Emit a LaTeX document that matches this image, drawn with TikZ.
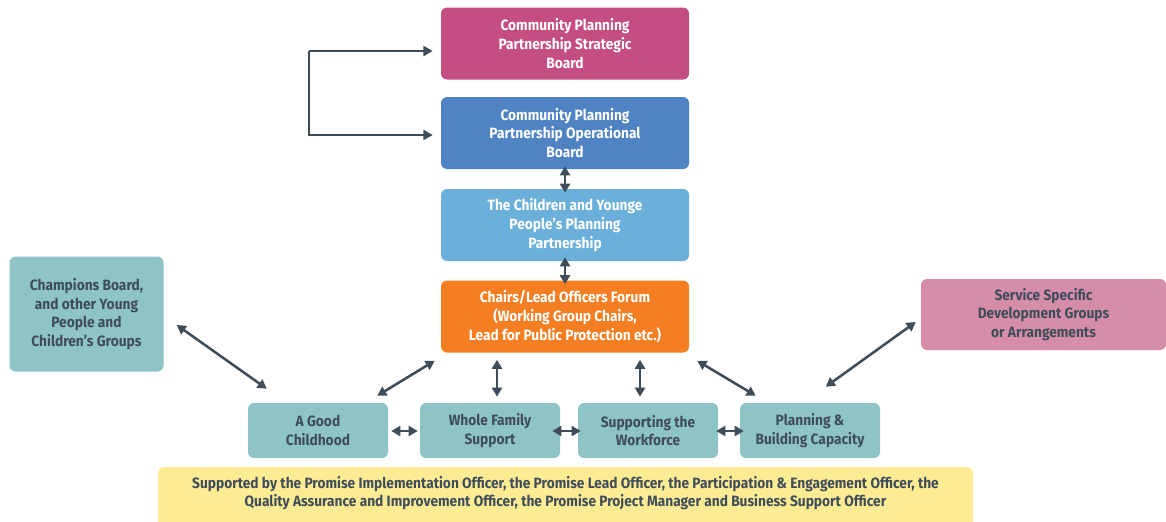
\documentclass[tikz,border=0pt]{standalone}
\usepackage{fontspec}
\setmainfont{Fira Sans}[FakeStretch=0.92]
\usetikzlibrary{arrows.meta,calc}
\definecolor{cstrat}{HTML}{C44E82}
\definecolor{coper}{HTML}{5083C4}
\definecolor{cchild}{HTML}{6BB0DA}
\definecolor{cchair}{HTML}{F47E21}
\definecolor{cteal}{HTML}{8FC4C6}
\definecolor{cpink}{HTML}{D68DAA}
\definecolor{cyell}{HTML}{FEEC95}
\definecolor{cdark}{HTML}{3E4D59}
\begin{document}
\begin{tikzpicture}[x=0.75pt,y=-0.75pt,
  box/.style={rounded corners=4.5pt, inner sep=0pt, align=center,
    font=\fontsize{11.2}{14}\selectfont\bfseries},
  topbox/.style={box, text=white, minimum width=186pt, minimum height=54pt},
  lowbox/.style={box, fill=cteal, text=cdark, minimum width=105pt, minimum height=41.25pt},
  conn/.style={draw=cdark, line width=1.9pt, {Triangle[length=6.8pt,width=7.5pt]}-{Triangle[length=6.8pt,width=7.5pt]}},
  bconn/.style={draw=cdark, line width=1.6pt, -{Triangle[length=7pt,width=7.5pt]}}
]
\useasboundingbox (0,0) rectangle (1166,521);
\clip (0,0) rectangle (1166,521);

\node[topbox, fill=cstrat] (sb) at (565,43.5) {Community Planning\\Partnership Strategic\\Board};
\node[topbox, fill=coper] (op) at (565,133) {Community Planning\\Partnership Operational\\Board};
\node[topbox, fill=cchild] (cy) at (565,225) {The Children and Younge\\People's Planning\\Partnership};
\node[topbox, fill=cchair] (cf) at (565,316.5) {Chairs/Lead Officers Forum\\(Working Group Chairs,\\Lead for Public Protection etc.)};

\node[box, fill=cteal, text=cdark, minimum width=115.5pt, minimum height=86.25pt] (champ) at (86.5,314) {Champions Board,\\and other Young\\People and\\Children's Groups};
\node[box, fill=cpink, text=cdark, minimum width=183.75pt, minimum height=53.25pt] (serv) at (1043.5,314.5) {Service Specific\\Development Groups\\or Arrangements};

\node[lowbox] (good) at (318,430.5) {A Good\\Childhood};
\node[lowbox] (wf) at (490,430.5) {Whole Family\\Support};
\node[lowbox] (sw) at (648,430.5) {Supporting the\\Workforce};
\node[lowbox] (pl) at (810,430.5) {Planning \&\\Building Capacity};

\fill[cyell, rounded corners=4.5pt] (158,467) rectangle (973,545);
\node[box, text=cdark] (banner) at (565.5,493) {Supported by the Promise Implementation Officer, the Promise Lead Officer, the Participation \& Engagement Officer, the\\Quality Assurance and Improvement Officer, the Promise Project Manager and Business Support Officer};

% bracket
\coordinate (bk) at (309,51);
\draw[bconn] (bk) -- ($(sb.west)+(-8,7.5)$);
\draw[bconn] (bk) |- ($(op.west)+(-8,2)$);

% column
\draw[conn] ($(op.south)+(0,-3)$) -- ($(cy.north)+(0,4)$);
\draw[conn] ($(cy.south)+(0,-4)$) -- ($(cf.north)+(0,4)$);

% forum to working groups
\draw[conn] ($(cf.south)+(-68,7)$) -- ($(wf.north)+(7,-6)$);
\draw[conn] ($(cf.south)+(75,7)$) -- ($(sw.north)+(-8,-6)$);
\draw[conn] ($(cf.south west)+(-6,8)$) -- ($(good.north east)+(-11,-7)$);
\draw[conn] ($(cf.south east)+(8,8)$) -- ($(pl.north west)+(16,-7)$);

% side groups
\draw[conn] ($(champ.east)+(13,11)$) -- ($(good.north west)+(19,-14)$);
\draw[conn] ($(pl.north west)+(86,-16)$) -- ($(serv.west)+(-5,7.5)$);

% row
\draw[conn] ($(good.east)+(3,0.5)$) -- ($(wf.west)+(-2,0.5)$);
\draw[conn] ($(wf.east)+(-8,0.5)$) -- ($(sw.west)+(3,0.5)$);
\draw[conn] ($(sw.east)+(-2,0.5)$) -- ($(pl.west)+(4,0.5)$);
\end{tikzpicture}
\end{document}
